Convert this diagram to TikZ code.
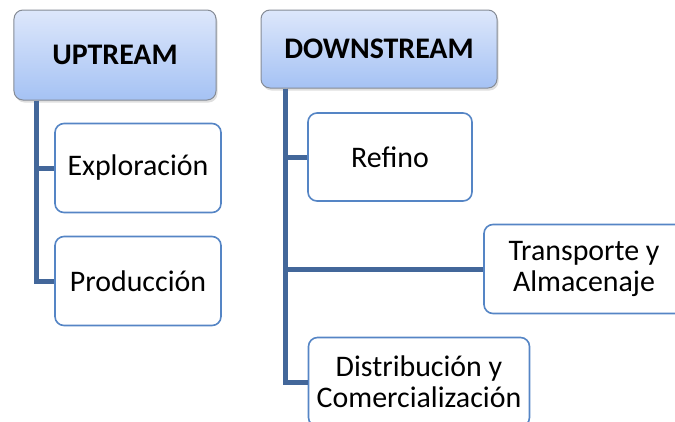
\documentclass[tikz,border=0pt]{standalone}
\usepackage{fontspec}
\setmainfont{Carlito}
\usetikzlibrary{shadows}
\definecolor{tronco}{HTML}{43679A}
\definecolor{bordeazul}{HTML}{5585C5}
\definecolor{bordegris}{HTML}{858B95}
\definecolor{celesteclaro}{HTML}{DDE7FB}
\definecolor{celeste}{HTML}{A5C2F4}

\begin{document}
\begin{tikzpicture}[x=1bp, y=-1bp,
    raiz/.style={draw=bordegris, line width=1bp, rounded corners=9bp,
      top color=celesteclaro, bottom color=celeste,
      font=\bfseries\fontsize{30}{31}\selectfont,
      drop shadow={opacity=0.25, shadow xshift=1.5bp, shadow yshift=-2.5bp}},
    hoja/.style={draw=bordeazul, fill=white, line width=1.6bp, rounded corners=9bp,
      align=center, font=\fontsize{30}{31}\selectfont},
    rama/.style={draw=tronco, line width=5bp}]
        \useasboundingbox (0,0) rectangle (675,421);

        % Raices
        \node[raiz, minimum width=202bp, minimum height=90bp] (up) at (115,55) {UPTREAM};
        \node[raiz, minimum width=236bp, minimum height=78bp] (down) at (379,49) {DOWNSTREAM};

        % Upstream
        \node[hoja, minimum width=166bp, minimum height=89bp] (expl) at (138,168) {Exploración};
        \node[hoja, minimum width=166bp, minimum height=89bp] (prod) at (138,281) {Producción};

        % Downstream
        \node[hoja, minimum width=164bp, minimum height=88bp] (ref) at (390,157) {Refino};
        \node[hoja, minimum width=200bp, minimum height=89bp] (trans) at (584,269) {Transporte y\\Almacenaje};
        \node[hoja, minimum width=221bp, minimum height=89bp] (dist) at (419,382) {Distribución y\\Comercialización};

        % Ramas
        \draw[rama] ([xshift=23bp]up.south west) |- (expl.west);
        \draw[rama] ([xshift=23bp]up.south west) |- (prod.west);
        \draw[rama] ([xshift=25bp]down.south west) |- (ref.west);
        \draw[rama] ([xshift=25bp]down.south west) |- (trans.west);
        \draw[rama] ([xshift=25bp]down.south west) |- (dist.west);
\end{tikzpicture}
\end{document}
